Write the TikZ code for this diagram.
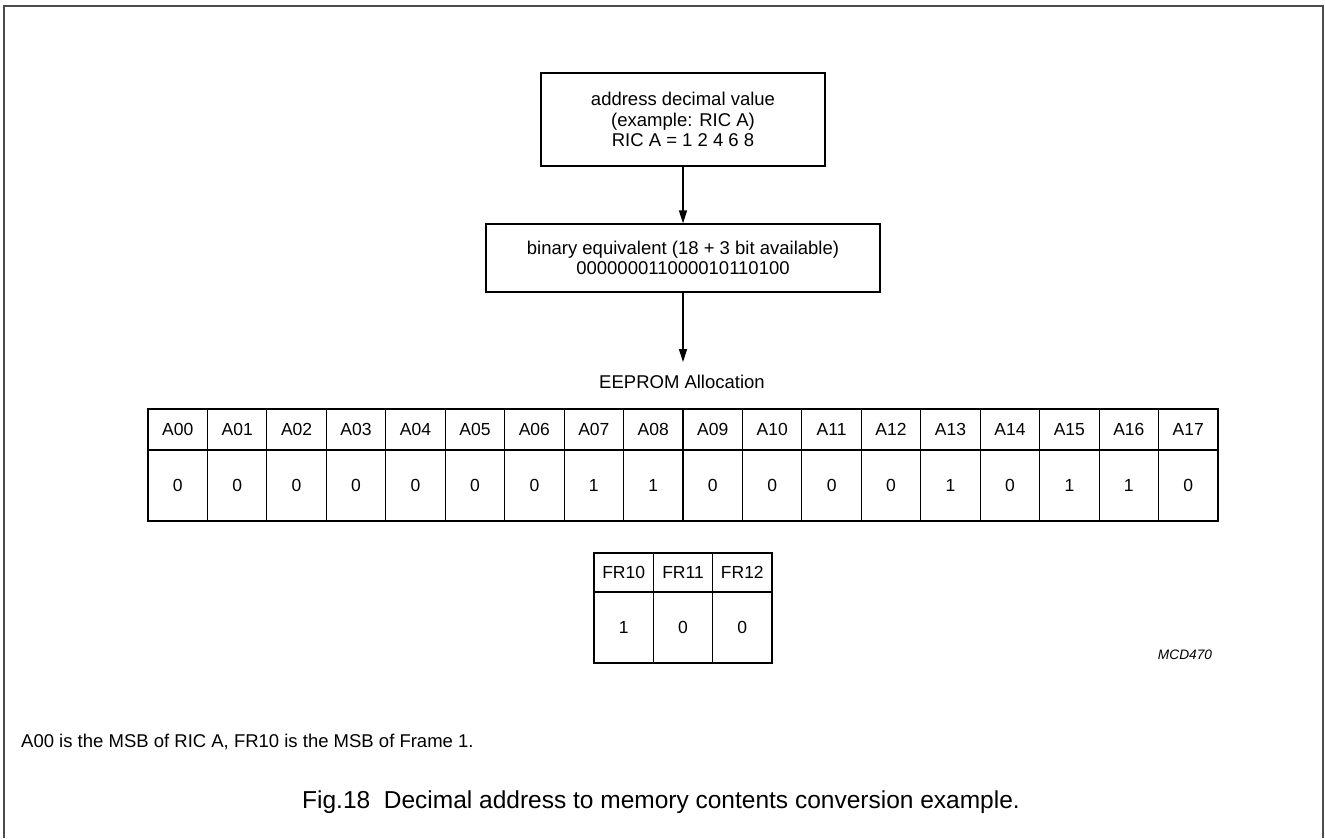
\documentclass[tikz,border=0pt]{standalone}
\usepackage{fontspec}
\setmainfont{Liberation Sans}
\usetikzlibrary{arrows.meta}
\begin{document}
\begin{tikzpicture}[x=1pt,y=-1pt,
  box/.style={draw,line width=1.2pt,inner sep=0pt,align=center,font=\fontsize{18.5}{20.5}\selectfont},
  cell/.style={draw,line width=1.2pt,minimum width=59.44pt,inner sep=0pt,outer sep=0pt,font=\fontsize{17.5}{20}\selectfont},
  arr/.style={line width=1.2pt,-{Triangle[length=13pt,width=8pt]}},
  plain/.style={inner sep=0pt,font=\fontsize{18.5}{21}\selectfont}
]
\useasboundingbox (0,0) rectangle (1325,838);
\draw[line width=2pt, black!70] (4,838) -- (4,6) -- (1323,6) -- (1323,838);

\node[box, minimum width=284pt, minimum height=93pt] (dec) at (683,119.5)
  {address decimal value\\(example: RIC A)\\RIC A = 1 2 4 6 8};
\node[box, minimum width=394pt, minimum height=68pt] (bin) at (683,258)
  {binary equivalent (18 + 3 bit available)\\000000011000010110100};
\node[plain] (eep) at (682,382) {EEPROM Allocation};
\coordinate (tip) at (683,362);

\draw[arr] (dec.south) -- (bin.north);
\draw[arr] (bin.south) -- (tip);

\foreach \lab/\val [count=\i from 0] in {A00/0,A01/0,A02/0,A03/0,A04/0,A05/0,A06/0,A07/1,A08/1,A09/0,A10/0,A11/0,A12/0,A13/1,A14/0,A15/1,A16/1,A17/0}{
  \node[cell, minimum height=41pt] (h\i) at ({148+59.444*\i+29.722},429.5) {\lab};
  \node[cell, minimum height=71pt] (v\i) at ({148+59.444*\i+29.722},485.5) {\val};
}

\foreach \lab/\val [count=\j from 0] in {FR10/1,FR11/0,FR12/0}{
  \node[cell, minimum width=59.33pt, minimum height=39pt] (fh\j) at ({594+59.33*\j+29.667},572.5) {\lab};
  \node[cell, minimum width=59.33pt, minimum height=71pt] (fv\j) at ({594+59.33*\j+29.667},627.5) {\val};
}

\node[inner sep=0pt,font=\fontsize{13.7}{16}\selectfont\itshape] (mcd) at (1185,655) {MCD470};
\node[plain,anchor=west] (note) at (21,742) {A00 is the MSB of RIC A, FR10 is the MSB of Frame 1.};
\node[inner sep=0pt,font=\fontsize{24.5}{28}\selectfont] (cap) at (661,802) {Fig.18\ \ Decimal address to memory contents conversion example.};
\end{tikzpicture}
\end{document}
